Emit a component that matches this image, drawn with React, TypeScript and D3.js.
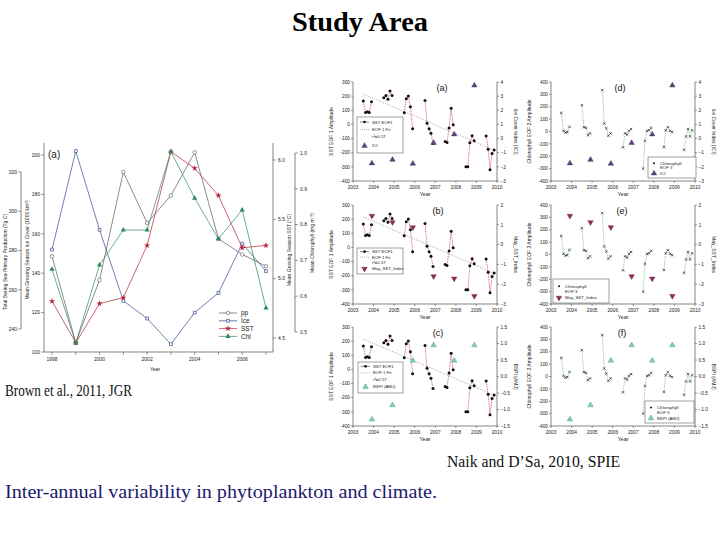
import React from 'react';
import * as d3 from 'd3';

// ---------- left chart (Brown et al.) ----------
const years = [1998, 1999, 2000, 2001, 2002, 2003, 2004, 2005, 2006, 2007];
const ppValues = [277, 233, 265, 320, 294, 308, 330, 286, 278, 272];
const iceValues = [152, 202, 162, 126, 117, 104, 120, 130, 155, 141];
const sstValues = [4.81, 4.46, 4.79, 4.84, 5.28, 6.07, 5.93, 5.7, 5.26, 5.28];
const chlValues = [0.675, 0.469, 0.687, 0.785, 0.785, 1.004, 0.874, 0.76, 0.841, 0.567];

const yearLabels = [1998, 2000, 2002, 2004, 2006];
const ppTicks = [240, 260, 280, 300, 320];
const iceTicks = [100, 120, 140, 160, 180, 200];
const sstTicks = [4.5, 5.0, 5.5, 6.0];
const chlTicks = [0.5, 0.6, 0.7, 0.8, 0.9, 1.0];

// ---------- right panels (Naik and D'Sa) ----------
const eofTimes = [
  2003.5, 2003.61, 2003.7, 2003.79, 2003.9,
  2004.5, 2004.6, 2004.7, 2004.8, 2004.9,
  2005.49, 2005.59, 2005.69, 2005.79, 2005.9,
  2006.5, 2006.6, 2006.7, 2006.79, 2006.89,
  2007.48, 2007.57, 2007.67, 2007.77, 2007.87,
  2008.49, 2008.58, 2008.68, 2008.79, 2008.89,
  2009.47, 2009.57, 2009.66, 2009.76, 2009.86,
];
const sstEof1 = [
  166, 85, 90, 85, 160,
  189, 205, 178, 236, 205,
  83, 182, 201, 125, -30,
  170, 8, -30, -62, -135,
  -120, -127, -25, 115, -3,
  -300, -300, -130, -80, -115,
  -82, -175, -320, -205, -180,
];
const chlEof3 = [
  150, 5, -8, -5, 38,
  213, 35, 30, -30, -15,
  335, 65, 25, -35, -15,
  -128, -15, -25, 5, 20,
  -300, -75, 5, 10, 30,
  -125, 10, 35, 5, -5,
  -148, -40, 20, -40, 10,
];
const fitTimes = [2003.5, 2009.86];
const fitValues = [215, -182];

const indexTimes = [2003.92, 2004.92, 2005.91, 2006.92, 2007.92, 2008.9];
const iciValues = [-1.75, -1.5, -1.78, -0.31, 0.3, 3.76];
const maySstIndex = [1.45, 1.13, 0.87, -1.6, -1.72, -2.6];
const bspiValues = [-1.3, -0.87, 0.48, 0.95, 0.48, 0.95];

const panelYears = [2003, 2004, 2005, 2006, 2007, 2008, 2009, 2010];
const sstEofTicks = [-400, -300, -200, -100, 0, 100, 200, 300];
const chlEofTicks = [-400, -300, -200, -100, 0, 100, 200, 300, 400];
const iciTicks = [-3, -2, -1, 0, 1, 2, 3, 4];
const maySstTicks = [-3, -2, -1, 0, 1, 2];
const bspiTicks = [-1.5, -1.0, -0.5, 0.0, 0.5, 1.0, 1.5];

const SANS = 'Liberation Sans, Arial, sans-serif';
const SERIF = 'Liberation Serif, Times New Roman, serif';

const sym = (type: d3.SymbolType, size: number) => d3.symbol().type(type).size(size)() as string;

const indexConfigs = [
  { title: 'Ice Cover Index (ICI)', legend: 'ICI', values: iciValues, ticks: iciTicks, fmt: d3.format('d'), rot: 0, fill: '#5e4479', stroke: '#3b2852' },
  { title: 'May_SST_Index', legend: 'May_SST_Index', values: maySstIndex, ticks: maySstTicks, fmt: d3.format('d'), rot: 180, fill: '#8f2b5e', stroke: '#5e1a3c' },
  { title: 'BSPI (AMJ)', legend: 'BSPI (AMJ)', values: bspiValues, ticks: bspiTicks, fmt: d3.format('.1f'), rot: 0, fill: '#86cbc4', stroke: '#2f8f88' },
];

// legend boxes and panel letters (layout only)
const legendBoxes = [
  [{ x: 357, y: 117, w: 46, h: 36 }, { x: 357, y: 248, w: 46, h: 26 }, { x: 358, y: 362, w: 45, h: 31 }],
  [{ x: 648, y: 157, w: 48, h: 21 }, { x: 553, y: 279, w: 56, h: 24 }, { x: 645, y: 401, w: 49, h: 22 }],
];
const letterPos = [
  [{ x: 442, l: '(a)' }, { x: 438, l: '(b)' }, { x: 438, l: '(c)' }],
  [{ x: 620, l: '(d)' }, { x: 622, l: '(e)' }, { x: 622, l: '(f)' }],
];

function Panel({ col, row }: { col: number; row: number }) {
  const x0 = col === 0 ? 353 : 551;
  const x1 = x0 + 144;
  const top = [82, 205, 327][row];
  const bottom = top + 99;
  const isChl = col === 1;
  const leftTicks = isChl ? chlEofTicks : sstEofTicks;
  const series = isChl ? chlEof3 : sstEof1;
  const cfg = indexConfigs[row];

  const x = d3.scaleLinear().domain([2003, 2010]).range([x0, x1]);
  const yL = d3.scaleLinear().domain([d3.min(leftTicks)!, d3.max(leftTicks)!]).range([bottom, top]);
  const yR = d3.scaleLinear().domain([d3.min(cfg.ticks)!, d3.max(cfg.ticks)!]).range([bottom, top]);

  const seasons = d3.groups(d3.range(eofTimes.length), (i) => Math.floor(eofTimes[i]));
  const line = d3.line<number>().x((i) => x(eofTimes[i])).y((i) => yL(series[i]));
  const lineColor = isChl ? '#6cc46c' : '#cc4070';
  const tri = sym(d3.symbolTriangle, 13);
  const lb = legendBoxes[col][row];
  const lp = letterPos[col][row];

  return (
    <g fontFamily={SANS}>
      {/* axes */}
      <line x1={x0} x2={x0} y1={top} y2={bottom} stroke="#333" strokeWidth={0.6} />
      <line x1={x1} x2={x1} y1={top} y2={bottom} stroke="#333" strokeWidth={0.6} />
      <line x1={x0} x2={x1} y1={bottom} y2={bottom} stroke="#333" strokeWidth={0.6} />
      {leftTicks.map((t) => (
        <g key={'l' + t}>
          <line x1={x0 - 2} x2={x0} y1={yL(t)} y2={yL(t)} stroke="#333" strokeWidth={0.5} />
          <text x={x0 - 3} y={yL(t) + 1.7} fontSize={4.8} textAnchor="end" fill="#222">{t}</text>
        </g>
      ))}
      {cfg.ticks.map((t) => (
        <g key={'r' + t}>
          <line x1={x1} x2={x1 + 2} y1={yR(t)} y2={yR(t)} stroke="#333" strokeWidth={0.5} />
          <text x={x1 + 3.5} y={yR(t) + 1.7} fontSize={4.8} fill="#222">{cfg.fmt(t)}</text>
        </g>
      ))}
      {panelYears.map((t) => (
        <g key={'x' + t}>
          <line x1={x(t)} x2={x(t)} y1={bottom} y2={bottom + 2} stroke="#333" strokeWidth={0.5} />
          <text x={x(t)} y={bottom + 7.5} fontSize={4.8} textAnchor="middle" fill="#222">{t}</text>
        </g>
      ))}
      <text x={(x0 + x1) / 2} y={bottom + 15} fontSize={5.5} textAnchor="middle" fill="#222">Year</text>
      <text transform={`translate(${x0 - 20},${(top + bottom) / 2}) rotate(-90)`} fontSize={5} textAnchor="middle" fill="#222">
        {isChl ? 'Chlorophyll EOF 3 Amplitude' : 'SST EOF 1 Amplitude'}
      </text>
      <text transform={`translate(${x1 + 17},${(top + bottom) / 2}) rotate(90)`} fontSize={5} textAnchor="middle" fill="#222">
        {cfg.title}
      </text>
      <text x={lp.x} y={top + 9} fontSize={9} textAnchor="middle" fill="#111">{lp.l}</text>

      {/* fit line */}
      {!isChl && (
        <line x1={x(fitTimes[0])} y1={yL(fitValues[0])} x2={x(fitTimes[1])} y2={yL(fitValues[1])}
          stroke="#888" strokeWidth={0.8} strokeDasharray="1,1.4" />
      )}
      {/* season lines */}
      {seasons.map(([yr, idx]) => (
        <path key={yr} d={line(idx) as string} fill="none" stroke={lineColor} strokeWidth={0.7} strokeDasharray="1.6,0.9" />
      ))}
      {eofTimes.map((t, i) =>
        isChl ? (
          <path key={i} d={sym(d3.symbolTimes, 5)} transform={`translate(${x(t)},${yL(series[i])})`} stroke="#111" strokeWidth={0.6} fill="none" />
        ) : (
          <circle key={i} cx={x(t)} cy={yL(series[i])} r={1.5} fill="#111" />
        )
      )}
      {/* index */}
      {indexTimes.map((t, i) => (
        <path key={'i' + i} d={tri} transform={`translate(${x(t)},${yR(cfg.values[i])}) rotate(${cfg.rot})`}
          fill={cfg.fill} stroke={cfg.stroke} strokeWidth={0.4} />
      ))}

      {/* legend */}
      <rect x={lb.x} y={lb.y} width={lb.w} height={lb.h} fill="#fff" stroke="#444" strokeWidth={0.5} />
      {!isChl ? (
        <g fontSize={4.3} fill="#222">
          <line x1={lb.x + 3} x2={lb.x + 12} y1={lb.y + lb.h * 0.14} y2={lb.y + lb.h * 0.14} stroke="#333" strokeWidth={0.6} />
          <circle cx={lb.x + 7.5} cy={lb.y + lb.h * 0.14} r={1.3} fill="#111" />
          <text x={lb.x + 15} y={lb.y + lb.h * 0.14 + 1.5}>SST EOF1</text>
          <line x1={lb.x + 3} x2={lb.x + 12} y1={lb.y + lb.h * 0.35} y2={lb.y + lb.h * 0.35} stroke="#888" strokeWidth={0.6} strokeDasharray="1,1" />
          <text x={lb.x + 15} y={lb.y + lb.h * 0.35 + 1.5}>EOF 1 Fit</text>
          <text x={lb.x + 15} y={lb.y + lb.h * 0.55 + 1.5}>r²=0.57</text>
          <path d={tri} transform={`translate(${lb.x + 7.5},${lb.y + lb.h * 0.8}) rotate(${cfg.rot})`} fill={cfg.fill} stroke={cfg.stroke} strokeWidth={0.4} />
          <text x={lb.x + 15} y={lb.y + lb.h * 0.8 + 1.5}>{cfg.legend}</text>
        </g>
      ) : (
        <g fontSize={4.3} fill="#222">
          <circle cx={lb.x + 6} cy={lb.y + lb.h * 0.3} r={1} fill="#111" />
          <text x={lb.x + 12} y={lb.y + lb.h * 0.3 + 1.5}>Chlorophyll</text>
          <text x={lb.x + 12} y={lb.y + lb.h * 0.5 + 1.5}>EOF 3</text>
          <path d={tri} transform={`translate(${lb.x + 6},${lb.y + lb.h * 0.78}) rotate(${cfg.rot})`} fill={cfg.fill} stroke={cfg.stroke} strokeWidth={0.4} />
          <text x={lb.x + 12} y={lb.y + lb.h * 0.78 + 1.5}>{cfg.legend}</text>
        </g>
      )}
    </g>
  );
}

function BrownChart() {
  const x = d3.scaleLinear().domain([1998, 2007]).range([52, 266]);
  const yPP = d3.scaleLinear().domain([240, 320]).range([329, 172]);
  const yIce = d3.scaleLinear().domain([100, 200]).range([352, 155]);
  const ySst = d3.scaleLinear().domain([4.5, 6.0]).range([338, 160]);
  const yChl = d3.scaleLinear().domain([0.5, 1.0]).range([332, 153]);

  const series = [
    { key: 'pp', values: ppValues, y: yPP, color: '#5a5a5a', marker: 'circle' },
    { key: 'Ice', values: iceValues, y: yIce, color: '#34498f', marker: 'square' },
    { key: 'SST', values: sstValues, y: ySst, color: '#b8213c', marker: 'star' },
    { key: 'Chl', values: chlValues, y: yChl, color: '#2f8a5c', marker: 'triangle' },
  ];
  const marker = (m: string, color: string, cx: number, cy: number, k: string) => {
    if (m === 'circle') return <circle key={k} cx={cx} cy={cy} r={1.8} fill="#fff" stroke={color} strokeWidth={0.6} />;
    if (m === 'square') return <path key={k} d={sym(d3.symbolSquare, 8)} transform={`translate(${cx},${cy})`} fill="#fff" stroke={color} strokeWidth={0.7} />;
    if (m === 'star') return <path key={k} d={sym(d3.symbolStar, 12)} transform={`translate(${cx},${cy})`} fill={color} />;
    return <path key={k} d={sym(d3.symbolTriangle, 12)} transform={`translate(${cx},${cy})`} fill={color} />;
  };

  return (
    <g fontFamily={SANS} fill="#222">
      {/* frame axes */}
      <line x1={44} x2={44} y1={143} y2={352} stroke="#333" strokeWidth={0.6} />
      <line x1={44} x2={273} y1={352} y2={352} stroke="#333" strokeWidth={0.6} />
      <line x1={273} x2={273} y1={143} y2={352} stroke="#333" strokeWidth={0.6} />
      <line x1={21} x2={21} y1={yPP(240)} y2={yPP(320)} stroke="#333" strokeWidth={0.6} />
      <line x1={295} x2={295} y1={yChl(0.5)} y2={yChl(1.0)} stroke="#333" strokeWidth={0.6} />

      {iceTicks.map((t) => (
        <g key={'i' + t}>
          <line x1={41} x2={44} y1={yIce(t)} y2={yIce(t)} stroke="#333" strokeWidth={0.5} />
          <text x={40} y={yIce(t) + 1.8} fontSize={5} textAnchor="end">{t}</text>
        </g>
      ))}
      {ppTicks.map((t) => (
        <g key={'p' + t}>
          <line x1={18} x2={21} y1={yPP(t)} y2={yPP(t)} stroke="#333" strokeWidth={0.5} />
          <text x={17} y={yPP(t) + 1.8} fontSize={5} textAnchor="end">{t}</text>
        </g>
      ))}
      {sstTicks.map((t) => (
        <g key={'s' + t}>
          <line x1={273} x2={276} y1={ySst(t)} y2={ySst(t)} stroke="#333" strokeWidth={0.5} />
          <text x={278} y={ySst(t) + 1.8} fontSize={5}>{t.toFixed(1)}</text>
        </g>
      ))}
      {chlTicks.map((t) => (
        <g key={'c' + t}>
          <line x1={295} x2={298} y1={yChl(t)} y2={yChl(t)} stroke="#333" strokeWidth={0.5} />
          <text x={300} y={yChl(t) + 1.8} fontSize={5}>{t.toFixed(1)}</text>
        </g>
      ))}
      {years.map((t) => (
        <line key={'x' + t} x1={x(t)} x2={x(t)} y1={352} y2={355} stroke="#333" strokeWidth={0.5} />
      ))}
      {yearLabels.map((t) => (
        <text key={'xl' + t} x={x(t)} y={361} fontSize={5} textAnchor="middle">{t}</text>
      ))}
      <text x={155} y={371} fontSize={5} textAnchor="middle">Year</text>

      <text transform="translate(7,262) rotate(-90)" fontSize={5} textAnchor="middle">Total Bering Sea Primary Production (Tg C)</text>
      <text transform="translate(29,250) rotate(-90)" fontSize={5} textAnchor="middle">Mean Growing Season Ice Cover (1000 km²)</text>
      <text transform="translate(291,250) rotate(-90)" fontSize={5} textAnchor="middle">Mean Growing Season SST (°C)</text>
      <text transform="translate(314,243) rotate(-90)" fontSize={5} textAnchor="middle">Mean Chlorophyll (mg m⁻³)</text>
      <text x={48} y={158} fontSize={10}>(a)</text>

      {series.map((s) => {
        const line = d3.line<number>().x((_, i) => x(years[i])).y((v) => s.y(v));
        return (
          <g key={s.key}>
            <path d={line(s.values) as string} fill="none" stroke={s.color} strokeWidth={0.7} />
            {s.values.map((v, i) => marker(s.marker, s.color, x(years[i]), s.y(v), s.key + i))}
          </g>
        );
      })}

      {/* legend */}
      {series.map((s, i) => {
        const ly = 313 + i * 7.8;
        return (
          <g key={'lg' + s.key}>
            <line x1={219} x2={237} y1={ly} y2={ly} stroke={s.color} strokeWidth={0.7} />
            {marker(s.marker, s.color, 228, ly, 'lm' + s.key)}
            <text x={241} y={ly + 2.2} fontSize={6.5}>{s.key}</text>
          </g>
        );
      })}
    </g>
  );
}

export default function App() {
  return (
    <svg width={720} height={540} style={{ position: 'absolute', left: 0, top: 0, background: '#fff' }}>
      <rect x={0} y={0} width={720} height={540} fill="#fff" />
      <text x={360} y={31} textAnchor="middle" fontFamily={SERIF} fontWeight="bold" fontSize={27} textLength={136} lengthAdjust="spacingAndGlyphs">
        Study Area
      </text>
      <BrownChart />
      {[0, 1].map((c) => [0, 1, 2].map((r) => <Panel key={`${c}-${r}`} col={c} row={r} />))}
      <text x={5} y={396} fontFamily={SERIF} fontSize={16} textLength={127} lengthAdjust="spacingAndGlyphs" fill="#111">
        Brown et al., 2011, JGR
      </text>
      <text x={447} y={467} fontFamily={SERIF} fontSize={16} textLength={173} lengthAdjust="spacingAndGlyphs" fill="#111">
        Naik and D’Sa, 2010, SPIE
      </text>
      <text x={5} y={498} fontFamily={SERIF} fontSize={19} textLength={432} lengthAdjust="spacingAndGlyphs" fill="#1c1a6e">
        Inter-annual variability in phytoplankton and climate.
      </text>
    </svg>
  );
}
